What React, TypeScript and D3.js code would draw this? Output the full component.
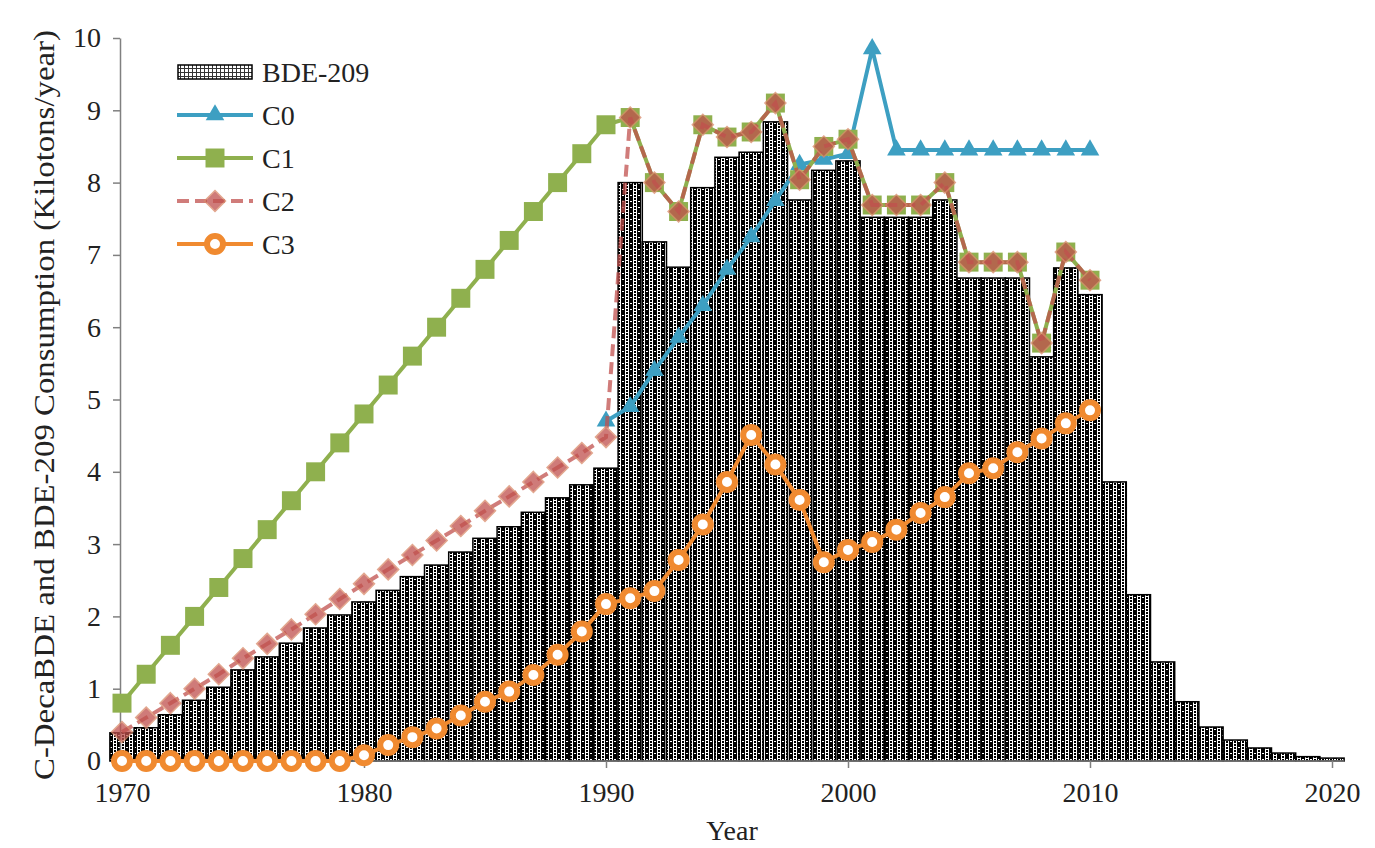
import React, { useEffect, useRef } from 'react';
import * as d3 from 'd3';

// BDE-209 bars, one per year 1970..2020
const barYears = [
  1970, 1971, 1972, 1973, 1974, 1975, 1976, 1977, 1978, 1979,
  1980, 1981, 1982, 1983, 1984, 1985, 1986, 1987, 1988, 1989,
  1990, 1991, 1992, 1993, 1994, 1995, 1996, 1997, 1998, 1999,
  2000, 2001, 2002, 2003, 2004, 2005, 2006, 2007, 2008, 2009,
  2010, 2011, 2012, 2013, 2014, 2015, 2016, 2017, 2018, 2019, 2020,
];
const bde209 = [
  0.39, 0.46, 0.64, 0.84, 1.02, 1.26, 1.44, 1.63, 1.84, 2.02,
  2.2, 2.36, 2.55, 2.71, 2.89, 3.08, 3.24, 3.44, 3.64, 3.82,
  4.05, 8.0, 7.18, 6.83, 7.93, 8.35, 8.42, 8.84, 7.76, 8.17,
  8.3, 7.52, 7.52, 7.52, 7.76, 6.68, 6.68, 6.68, 5.59, 6.82,
  6.45, 3.86, 2.3, 1.37, 0.82, 0.47, 0.29, 0.18, 0.11, 0.06, 0.04,
];

// scenario lines, 1970..2010 (C0 from 1990)
const c0Years = [1990, 1991, 1992, 1993, 1994, 1995, 1996, 1997, 1998, 1999, 2000,
  2001, 2002, 2003, 2004, 2005, 2006, 2007, 2008, 2009, 2010];
const c0 = [4.7, 4.9, 5.4, 5.86, 6.3, 6.8, 7.25, 7.75, 8.25, 8.32, 8.4,
  9.85, 8.45, 8.45, 8.45, 8.45, 8.45, 8.45, 8.45, 8.45, 8.45];

const lineYears = barYears.slice(0, 41);
const c1 = [
  0.8, 1.2, 1.6, 2.0, 2.4, 2.8, 3.2, 3.6, 4.0, 4.4,
  4.8, 5.2, 5.6, 6.0, 6.4, 6.8, 7.2, 7.6, 8.0, 8.4,
  8.8, 8.9, 8.0, 7.6, 8.8, 8.63, 8.7, 9.1, 8.04, 8.5,
  8.6, 7.69, 7.69, 7.69, 8.0, 6.9, 6.9, 6.9, 5.78, 7.04, 6.65,
];
const c2 = [
  0.4, 0.6, 0.8, 1.0, 1.2, 1.42, 1.62, 1.82, 2.03, 2.24,
  2.45, 2.65, 2.85, 3.05, 3.25, 3.46, 3.66, 3.86, 4.06, 4.26,
  4.48, 8.9, 8.0, 7.6, 8.8, 8.63, 8.7, 9.1, 8.04, 8.5,
  8.6, 7.69, 7.69, 7.69, 8.0, 6.9, 6.9, 6.9, 5.78, 7.04, 6.65,
];
const c3 = [
  0, 0, 0, 0, 0, 0, 0, 0, 0, 0,
  0.08, 0.22, 0.33, 0.45, 0.63, 0.82, 0.96, 1.19, 1.47, 1.79,
  2.17, 2.25, 2.35, 2.78, 3.27, 3.86, 4.51, 4.1, 3.61, 2.75,
  2.92, 3.03, 3.2, 3.43, 3.65, 3.98, 4.05, 4.27, 4.46, 4.67, 4.85,
];

const xTicks = [1970, 1980, 1990, 2000, 2010, 2020];
const yTicks = [0, 1, 2, 3, 4, 5, 6, 7, 8, 9, 10];
const legendLabels = ['BDE-209', 'C0', 'C1', 'C2', 'C3'];

const FONT = '"Liberation Serif", "Times New Roman", serif';

const App = () => {
  const ref = useRef<SVGSVGElement>(null);

  useEffect(() => {
    const svg = d3.select(ref.current);
    svg.selectAll('*').remove();

    const x = d3.scaleLinear().domain([1970, 2020]).range([122, 1332]);
    const y = d3.scaleLinear().domain([0, 10]).range([761, 38]);
    const bw = x(1971) - x(1970);

    const defs = svg.append('defs');
    // black fill with white "ladder" stripes
    const pat = defs.append('pattern')
      .attr('id', 'ladder')
      .attr('patternUnits', 'userSpaceOnUse')
      .attr('width', 8).attr('height', 6);
    const white = (px: number, py: number, w: number, h: number) =>
      pat.append('rect').attr('x', px).attr('y', py).attr('width', w).attr('height', h).attr('fill', '#fff');
    pat.append('rect').attr('width', 8).attr('height', 6).attr('fill', '#000');
    white(1, 0, 1, 6);
    white(4, 0, 1, 6);
    white(1, 2, 4, 1);
    white(1, 5, 4, 1);
    white(6, 3, 2, 1);

    const lpat = defs.append('pattern')
      .attr('id', 'legendPat')
      .attr('patternUnits', 'userSpaceOnUse')
      .attr('width', 4).attr('height', 4);
    lpat.append('rect').attr('width', 4).attr('height', 4).attr('fill', '#fff');
    lpat.append('rect').attr('width', 1).attr('height', 4).attr('fill', '#333');
    lpat.append('rect').attr('width', 4).attr('height', 1).attr('fill', '#333');

    // bars
    svg.append('g')
      .selectAll('rect')
      .data(barYears)
      .join('rect')
      .attr('x', d => x(d) - bw / 2)
      .attr('y', (d, i) => y(bde209[i]))
      .attr('width', bw)
      .attr('height', (d, i) => y(0) - y(bde209[i]))
      .attr('fill', 'url(#ladder)')
      .attr('stroke', '#000')
      .attr('stroke-width', 1.5);

    // axes
    const yAxis = svg.append('g')
      .attr('transform', `translate(120,0)`)
      .call(d3.axisLeft(y).tickValues(yTicks).tickSize(7).tickSizeOuter(0).tickPadding(12));
    yAxis.select('.domain').attr('stroke', '#808080').attr('stroke-width', 1.5);
    yAxis.selectAll('.tick line').attr('stroke', '#808080').attr('stroke-width', 1.5);
    yAxis.selectAll('.tick text')
      .attr('font-family', FONT).attr('font-size', 28).attr('fill', '#222');

    const xAxis = svg.append('g')
      .attr('transform', `translate(0,${y(0)})`)
      .call(d3.axisBottom(x).tickValues(xTicks).tickFormat(d3.format('d')).tickSize(7).tickSizeOuter(0).tickPadding(14));
    xAxis.select('.domain').remove();
    xAxis.append('line')
      .attr('x1', 120).attr('x2', x(2020) + bw / 2)
      .attr('stroke', '#808080').attr('stroke-width', 1.5);
    xAxis.selectAll('.tick line').attr('stroke', '#808080').attr('stroke-width', 1.5);
    xAxis.selectAll('.tick text')
      .attr('font-family', FONT).attr('font-size', 28).attr('fill', '#222');

    // axis titles
    svg.append('text')
      .attr('x', (x(1970) + x(2020)) / 2 + 5).attr('y', 840)
      .attr('text-anchor', 'middle')
      .attr('font-family', FONT).attr('font-size', 28).attr('fill', '#222')
      .text('Year');
    svg.append('text')
      .attr('transform', 'translate(54,405) rotate(-90)')
      .attr('text-anchor', 'middle')
      .attr('font-family', FONT).attr('font-size', 30).attr('fill', '#222')
      .attr('textLength', 750).attr('lengthAdjust', 'spacingAndGlyphs')
      .text('C-DecaBDE and BDE-209 Consumption (Kilotons/year)');

    const line = d3.line<[number, number]>().x(d => x(d[0])).y(d => y(d[1]));

    const tri = d3.symbol().type(d3.symbolTriangle).size(150);
    const sq = d3.symbol().type(d3.symbolSquare).size(360);
    const dia = (s: number) => `M0,${-s}L${s},0L0,${s}L${-s},0Z`;

    const series = [
      { key: 'C0', years: c0Years, vals: c0, color: '#3d9fc2', dash: null, opacity: 1 },
      { key: 'C1', years: lineYears, vals: c1, color: '#8fb04e', dash: null, opacity: 1 },
      { key: 'C2', years: lineYears, vals: c2, color: '#c0504d', dash: '12,6', opacity: 0.75 },
      { key: 'C3', years: lineYears, vals: c3, color: '#f08a30', dash: null, opacity: 1 },
    ];

    const drawMarker = (g: any, key: string, color: string, opacity: number) => {
      if (key === 'C0') {
        g.append('path').attr('d', tri()).attr('fill', color);
      } else if (key === 'C1') {
        g.append('path').attr('d', sq()).attr('fill', color);
      } else if (key === 'C2') {
        g.append('path').attr('d', dia(10.5)).attr('fill', color)
          .attr('stroke', '#d98a6a').attr('stroke-width', 1.5).attr('opacity', opacity);
      } else {
        g.append('circle').attr('r', 8).attr('fill', '#fff')
          .attr('stroke', color).attr('stroke-width', 6);
      }
    };

    series.forEach(s => {
      const pts: [number, number][] = s.years.map((yr, i) => [yr, s.vals[i]]);
      svg.append('path')
        .datum(pts)
        .attr('d', line)
        .attr('fill', 'none')
        .attr('stroke', s.color)
        .attr('stroke-width', 4)
        .attr('stroke-opacity', s.opacity)
        .attr('stroke-dasharray', s.dash);
      pts.forEach(p => {
        const g = svg.append('g').attr('transform', `translate(${x(p[0])},${y(p[1])})`);
        drawMarker(g, s.key, s.color, s.opacity);
      });
    });

    // legend
    const lg = svg.append('g');
    legendLabels.forEach((lab, i) => {
      const cy = 72 + i * 43;
      const item = lg.append('g').attr('transform', `translate(0,${cy})`);
      if (i === 0) {
        item.append('rect')
          .attr('x', 178).attr('y', -7).attr('width', 74).attr('height', 14)
          .attr('fill', 'url(#legendPat)').attr('stroke', '#000').attr('stroke-width', 1.5);
      } else {
        const s = series[i - 1];
        item.append('line')
          .attr('x1', 177).attr('x2', 253)
          .attr('stroke', s.color).attr('stroke-width', 4)
          .attr('stroke-opacity', s.opacity)
          .attr('stroke-dasharray', s.dash);
        const m = item.append('g').attr('transform', 'translate(215,0)');
        drawMarker(m, s.key, s.color, s.opacity);
      }
      item.append('text')
        .attr('x', 262).attr('y', 0).attr('dy', '0.35em')
        .attr('font-family', FONT).attr('font-size', 28).attr('fill', '#222')
        .text(lab);
    });
  }, []);

  return <svg ref={ref} width={1375} height={848} style={{ display: 'block', marginLeft: -8, marginTop: -8 }} />;
};

export default App;
